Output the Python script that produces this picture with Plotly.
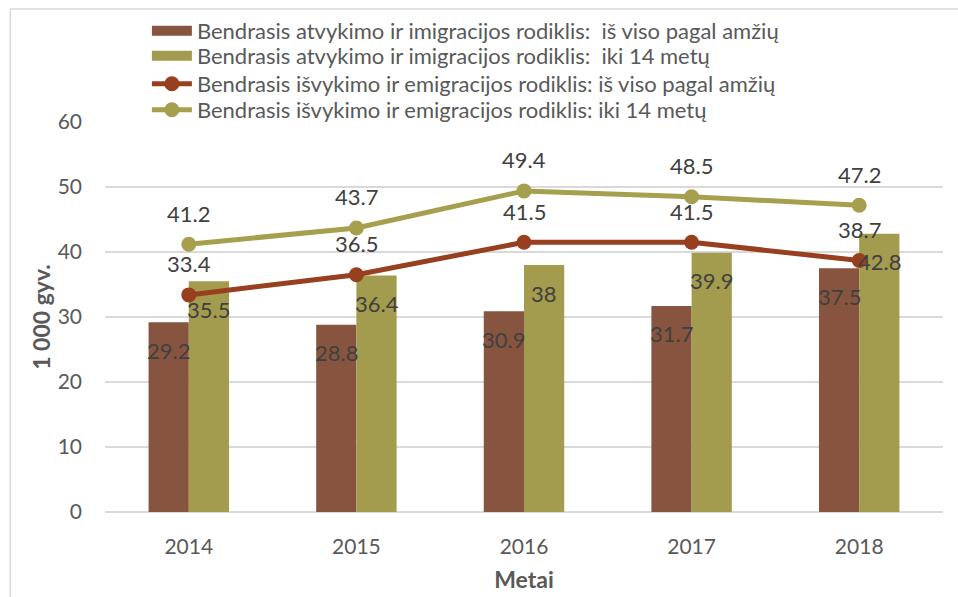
import plotly.graph_objects as go

years = ["2014", "2015", "2016", "2017", "2018"]
arr_total = [29.2, 28.8, 30.9, 31.7, 37.5]
arr_child = [35.5, 36.4, 38.0, 39.9, 42.8]
dep_total = [33.4, 36.5, 41.5, 41.5, 38.7]
dep_child = [41.2, 43.7, 49.4, 48.5, 47.2]
names = [
    "Bendrasis atvykimo ir imigracijos rodiklis:  iš viso pagal amžių",
    "Bendrasis atvykimo ir imigracijos rodiklis:  iki 14 metų",
    "Bendrasis išvykimo ir emigracijos rodiklis: iš viso pagal amžių",
    "Bendrasis išvykimo ir emigracijos rodiklis: iki 14 metų",
]
y_ticks = [0, 10, 20, 30, 40, 50, 60]

C_BROWN = "#87553F"
C_OLIVE = "#A39B4D"
C_RED = "#973F1F"
C_OLINE = "#A6A04E"
TXT = "#404040"
AX = "#595959"
FONT = "Lato"

fig = go.Figure()
fig.add_trace(go.Bar(x=years, y=arr_total, name=names[0], marker_color=C_BROWN,
                     marker_line_width=0, showlegend=False))
fig.add_trace(go.Bar(x=years, y=arr_child, name=names[1], marker_color=C_OLIVE,
                     marker_line_width=0, showlegend=False))
# legend-only entries with wide rectangular swatches for the bars
fig.add_trace(go.Scatter(x=[None], y=[None], name=names[0], mode="lines",
                         line=dict(color=C_BROWN, width=16), hoverinfo="skip",
                         legend="legend"))
fig.add_trace(go.Scatter(x=[None], y=[None], name=names[1], mode="lines",
                         line=dict(color=C_OLIVE, width=16), hoverinfo="skip",
                         legend="legend2"))
fig.add_trace(go.Scatter(x=years, y=dep_total, name=names[2], mode="lines+markers",
                         line=dict(color=C_RED, width=5),
                         marker=dict(size=15, color=C_RED), legend="legend3"))
fig.add_trace(go.Scatter(x=years, y=dep_child, name=names[3], mode="lines+markers",
                         line=dict(color=C_OLINE, width=5),
                         marker=dict(size=15, color=C_OLINE), legend="legend4"))

ann = []
def fmt(v):
    return ("%g" % v)
for i, v in enumerate(arr_total):
    ann.append(dict(x=i - 0.12, y=v, text=fmt(v), yshift=-28))
for i, v in enumerate(arr_child):
    ann.append(dict(x=i + 0.12, y=v, text=fmt(v), yshift=-28))
for i, v in enumerate(dep_total):
    ann.append(dict(x=i, y=v, text=fmt(v), yshift=31))
for i, v in enumerate(dep_child):
    ann.append(dict(x=i, y=v, text=fmt(v), yshift=31))
for a in ann:
    a.update(xref="x", yref="y", showarrow=False,
             font=dict(family=FONT, size=22, color=TXT))

def leg(ycenter):
    return dict(x=0.05, y=ycenter, xanchor="left", yanchor="middle",
                font=dict(family=FONT, size=22, color=AX),
                bgcolor="rgba(0,0,0,0)", itemwidth=40)

fig.update_layout(
    width=958, height=597,
    margin=dict(l=105, r=15, t=122, b=85, autoexpand=False),
    paper_bgcolor="white", plot_bgcolor="white",
    barmode="group", bargap=0.52, bargroupgap=0,
    font=dict(family=FONT, color=AX),
    annotations=ann,
    legend=leg(1.2333), legend2=leg(1.1692), legend3=leg(1.0974), legend4=leg(1.0308),
    xaxis=dict(type="category", showgrid=False, zeroline=False,
               showline=False, ticks="", automargin=False,
               ticklabelstandoff=20,
               tickfont=dict(family=FONT, size=21, color=AX),
               title=dict(text="<b>Metai</b>", font=dict(family=FONT, size=23, color=AX),
                          standoff=14)),
    yaxis=dict(range=[0, 60], tickvals=y_ticks, showgrid=True, automargin=False,
               gridcolor="#D9D9D9", gridwidth=1.5, zeroline=True,
               zerolinecolor="#D9D9D9", zerolinewidth=1.5,
               ticklabelstandoff=22,
               tickfont=dict(family=FONT, size=21, color=AX),
               title=dict(text="<b>1 000 gyv.</b>", font=dict(family=FONT, size=23, color=AX),
                          standoff=0)),
    shapes=[dict(type="rect", xref="paper", yref="paper", x0=-0.113, x1=1.2,
                 y0=-0.4, y1=1.29, line=dict(color="#D9D9D9", width=1.5),
                 fillcolor="rgba(0,0,0,0)", layer="below")],
)
fig.write_html("out.html", config={"displayModeBar": False},
               post_script="document.body.style.margin='0';")
